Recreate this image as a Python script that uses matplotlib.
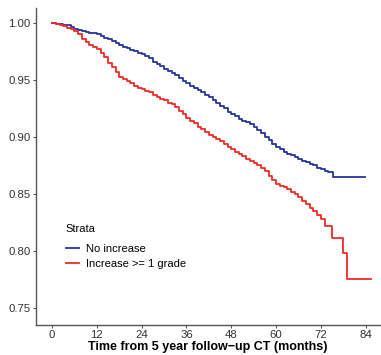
import matplotlib
matplotlib.use("Agg")
import matplotlib.pyplot as plt

plt.rcParams['font.family'] = ['Liberation Sans', 'DejaVu Sans']

# Kaplan-Meier style estimates (monthly readings)
no_inc_time = [0, 1, 2, 3, 4, 5, 6, 7, 8, 9, 10, 11, 12, 13, 14, 15, 16, 17, 18, 19,
               20, 21, 22, 23, 24, 25, 26, 27, 28, 29, 30, 31, 32, 33, 34, 35, 36, 37,
               38, 39, 40, 41, 42, 43, 44, 45, 46, 47, 48, 49, 50, 51, 52, 53, 54, 55,
               56, 57, 58, 59, 60, 61, 62, 63, 64, 65, 66, 67, 68, 69, 70, 71, 72, 73,
               74, 75.2, 83.7]
no_inc_surv = [1.000, 0.9995, 0.999, 0.9985, 0.998, 0.9965, 0.995, 0.994, 0.993, 0.992,
               0.9915, 0.991, 0.990, 0.9885, 0.987, 0.9855, 0.984, 0.982, 0.981, 0.979,
               0.978, 0.976, 0.975, 0.974, 0.973, 0.971, 0.969, 0.966, 0.964, 0.962,
               0.960, 0.958, 0.956, 0.954, 0.952, 0.949, 0.947, 0.945, 0.943, 0.941,
               0.939, 0.937, 0.935, 0.932, 0.930, 0.927, 0.925, 0.922, 0.920, 0.918,
               0.916, 0.914, 0.913, 0.911, 0.909, 0.906, 0.903, 0.900, 0.897, 0.894,
               0.891, 0.889, 0.887, 0.885, 0.884, 0.882, 0.881, 0.879, 0.878, 0.876,
               0.875, 0.873, 0.872, 0.870, 0.869, 0.8646, 0.8646]

inc_time = [0, 1, 2, 3, 4, 5, 6, 7, 8, 9, 10, 11, 12, 13, 14, 15, 16, 17, 18, 19,
            20, 21, 22, 23, 24, 25, 26, 27, 28, 29, 30, 31, 32, 33, 34, 35, 36, 37,
            38, 39, 40, 41, 42, 43, 44, 45, 46, 47, 48, 49, 50, 51, 52, 53, 54, 55,
            56, 57, 58, 59, 60, 61, 62, 63, 64, 65, 66, 67, 68, 69, 70, 71, 72, 73,
            75.1, 77.8, 79.1, 85.5]
inc_surv = [1.000, 0.999, 0.998, 0.997, 0.996, 0.9945, 0.993, 0.990, 0.986, 0.983,
            0.981, 0.979, 0.977, 0.974, 0.970, 0.965, 0.961, 0.957, 0.953, 0.951,
            0.949, 0.947, 0.945, 0.943, 0.942, 0.940, 0.939, 0.937, 0.935, 0.933,
            0.932, 0.930, 0.929, 0.926, 0.923, 0.920, 0.917, 0.914, 0.912, 0.909,
            0.907, 0.904, 0.902, 0.900, 0.898, 0.896, 0.894, 0.891, 0.889, 0.887,
            0.885, 0.883, 0.881, 0.879, 0.877, 0.875, 0.873, 0.870, 0.866, 0.862,
            0.859, 0.857, 0.856, 0.854, 0.852, 0.850, 0.847, 0.844, 0.841, 0.838,
            0.835, 0.831, 0.828, 0.822, 0.811, 0.798, 0.775, 0.775]

strata = ["No increase", "Increase >= 1 grade"]
colors = ["#24359c", "#ee2b27"]
x_ticks = [0, 12, 24, 36, 48, 60, 72, 84]
y_ticks = [0.75, 0.80, 0.85, 0.90, 0.95, 1.00]

fig = plt.figure(figsize=(3.81, 3.55), dpi=100)
ax = fig.add_axes([0.0945, 0.085, 0.9025, 0.892])

ax.plot(no_inc_time, no_inc_surv, drawstyle='steps-post', color=colors[0], lw=1.3, label=strata[0])
ax.plot(inc_time, inc_surv, drawstyle='steps-post', color=colors[1], lw=1.3, label=strata[1])

ax.set_xlim(-4.3, 87.8)
ax.set_ylim(0.735, 1.013)
ax.set_xticks(x_ticks)
ax.set_yticks(y_ticks)
ax.set_yticklabels(["%.2f" % v for v in y_ticks])

for s in ['top', 'right']:
    ax.spines[s].set_visible(False)
for s in ['left', 'bottom']:
    ax.spines[s].set_color('#555555')
    ax.spines[s].set_linewidth(1.0)
ax.tick_params(length=2.5, width=0.8, color='#555555', labelsize=8.2, labelcolor='#333333', pad=1.5)

ax.set_xlabel("Time from 5 year follow\u2212up CT (months)", fontsize=9, fontweight='bold')
ax.xaxis.set_label_coords(0.5, -0.052)
ax.xaxis.label.set_va('top')

leg = ax.legend(title="Strata", loc='upper left', bbox_to_anchor=(0.073, 0.332), frameon=False,
                fontsize=8, title_fontsize=8, handlelength=1.2, handletextpad=0.63,
                labelspacing=0.45, borderaxespad=0)
leg._legend_box.align = "left"
leg._legend_box.sep = 7

fig.savefig("out.png", dpi=100)
